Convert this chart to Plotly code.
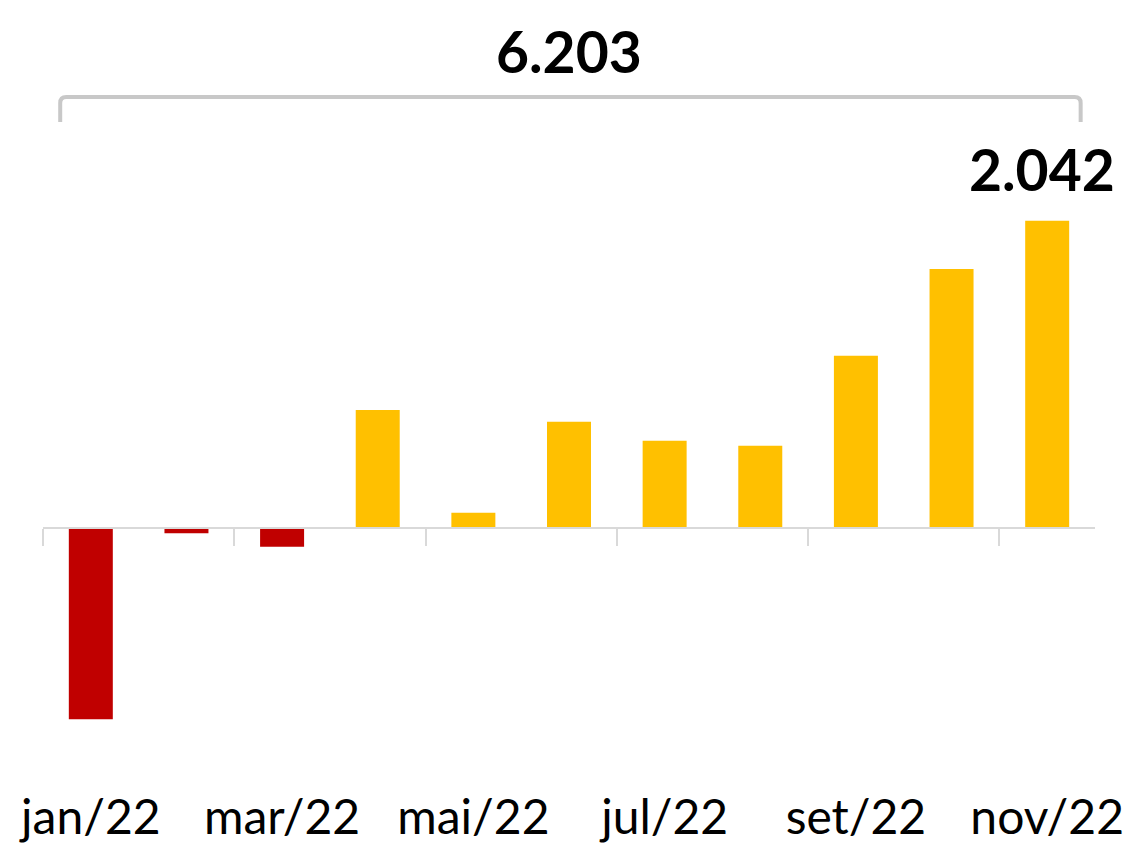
import plotly.graph_objects as go

months = ["jan/22", "fev/22", "mar/22", "abr/22", "mai/22", "jun/22",
          "jul/22", "ago/22", "set/22", "out/22", "nov/22"]
values = [-1274, -37, -126, 783, 100, 705, 579, 545, 1144, 1721, 2042]
total_label = "6.203"
last_label = "2.042"

RED = "#C00000"
GOLD = "#FFC000"
GRAY = "#D9D9D9"

idx = list(range(len(months)))
colors = [RED if v < 0 else GOLD for v in values]

ymin, ymax = -1711, 2845
n = len(months)

fig = go.Figure()
fig.add_trace(go.Bar(x=idx, y=values, marker=dict(color=colors, line=dict(width=0)),
                     width=0.46, hoverinfo="skip", showlegend=False))
# invisible trace to host the boundary-tick axis
bounds = [i - 0.5 for i in range(0, n, 2)]
fig.add_trace(go.Scatter(x=bounds, y=[0] * len(bounds), xaxis="x2", mode="lines",
                         opacity=0, hoverinfo="skip", showlegend=False))

# page body has an 8px margin, so the figure is sized/offset to compensate
fig.update_layout(
    width=1123, height=837,
    margin=dict(l=35, r=36, t=92, b=60, autoexpand=False),
    plot_bgcolor="white", paper_bgcolor="white",
    font=dict(family="Lato", color="black"),
    xaxis=dict(range=[-0.5, n - 0.5], tickmode="array", automargin=False,
               tickvals=idx[::2], ticktext=months[::2],
               showline=False, ticks="", showgrid=False, zeroline=False,
               tickfont=dict(size=48, family="Lato", color="black")),
    xaxis2=dict(range=[-0.5, n - 0.5], overlaying="x", anchor="free",
                position=(0 - ymin) / (ymax - ymin), side="bottom",
                tickmode="array", tickvals=bounds, ticks="outside",
                ticklen=17, tickwidth=2, tickcolor=GRAY, automargin=False,
                showline=True, linecolor=GRAY, linewidth=2,
                showticklabels=False, showgrid=False, zeroline=False),
    yaxis=dict(range=[ymin, ymax], visible=False, showgrid=False,
               zeroline=False, automargin=False),
)

# bracket spanning all months
x0, x1 = -0.32, n - 1 + 0.35
ytop, ybot = 1.0044, 0.968
rx, ry = 0.063, 0.0088
path = (f"M {x0},{ybot} L {x0},{ytop - ry} Q {x0},{ytop} {x0 + rx},{ytop} "
        f"L {x1 - rx},{ytop} Q {x1},{ytop} {x1},{ytop - ry} L {x1},{ybot}")
fig.add_shape(type="path", path=path, xref="x", yref="paper",
              line=dict(color="#C8C8C8", width=4))

fig.add_annotation(text=f"<b>{total_label}</b>", x=0.5, xref="paper",
                   y=1.072, yref="paper", yanchor="middle", showarrow=False,
                   font=dict(size=57, family="Lato", color="black"))
fig.add_annotation(text=f"<b>{last_label}</b>", x=n - 1, y=values[-1],
                   xref="x", yref="y", yanchor="bottom", yshift=16, xshift=-5,
                   showarrow=False,
                   font=dict(size=57, family="Lato", color="black"))

fig.write_html("out.html")
